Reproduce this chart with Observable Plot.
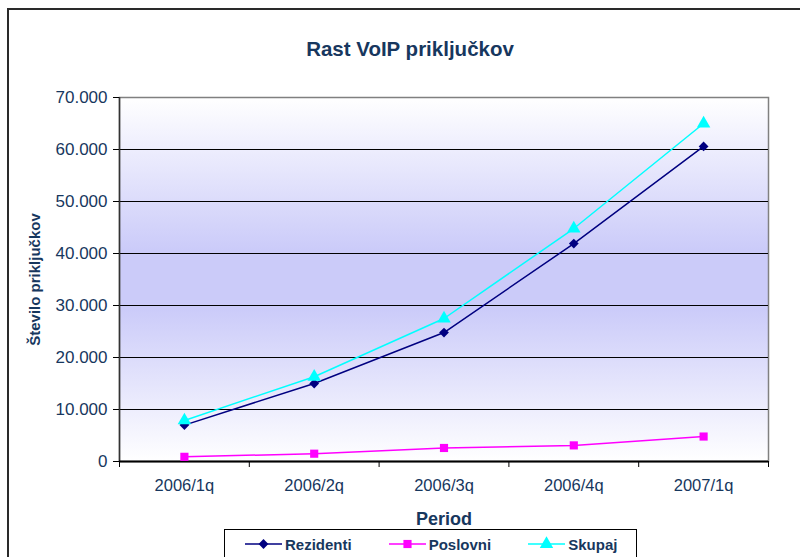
<!DOCTYPE html>
<html><head><meta charset="utf-8">
<script src="https://cdn.jsdelivr.net/npm/d3@7"></script>
<script src="https://cdn.jsdelivr.net/npm/@observablehq/plot@0.6"></script>
<style>
body{margin:0;background:#fff;font-family:"Liberation Sans",Arial,sans-serif;}
#wrap{position:relative;width:800px;height:557px;overflow:hidden;background:#fff;}
#outer{position:absolute;left:7px;top:8px;width:900px;height:800px;border:2px solid #2a2a2a;box-sizing:border-box;}
#chart{position:absolute;left:0;top:0;}
#title{position:absolute;left:0;top:37px;width:820px;text-align:center;font-weight:bold;font-size:20.5px;color:#17375e;}
#legend{position:absolute;left:224px;top:529px;width:413px;height:40px;border:1px solid #000;box-sizing:border-box;background:#fff;display:flex;align-items:flex-start;padding-left:20px;padding-top:5px;gap:37px;}
.item{display:flex;align-items:center;font-weight:bold;font-size:15px;color:#17375e;}
.item svg{margin-right:3px;}
</style></head>
<body>
<div id="wrap">
  <div id="outer"></div>
  <div id="chart"></div>
  <div id="title">Rast VoIP priključkov</div>
  <div id="legend"></div>
</div>
<script>
const categories = ["2006/1q","2006/2q","2006/3q","2006/4q","2007/1q"];
const rezidenti = [7000,15000,24800,41900,60600];
const poslovni  = [900,1500,2600,3100,4800];
const skupaj    = [7900,16300,27500,44800,65000];
const yTicks = [0,10000,20000,30000,40000,50000,60000,70000];
const seriesNames = ["Rezidenti","Poslovni","Skupaj"];
const seriesValues = [rezidenti, poslovni, skupaj];
const seriesColors = ["#000080","#ff00ff","#00ffff"];
const seriesSymbols = ["diamond2","square","triangle"];
const seriesR = [4.4,4.6,5];
const yTitle = "Število priključkov";
const xTitle = "Period";

const fmt = d => d === 0 ? "0" : d3.format(",")(d).replace(/,/g, ".");
const textColor = "#17375e";

const marks = [
  Plot.frame({fill:"url(#bgGrad)", stroke:"#808080", strokeWidth:1.5}),
  Plot.gridY(yTicks.filter(d => d > 0 && d < 70000), {stroke:"#000", strokeOpacity:1, strokeWidth:1}),
  Plot.ruleX([0], {stroke:"#333", strokeWidth:1.5}),
  Plot.ruleY([0], {stroke:"#000", strokeWidth:2}),
  Plot.axisY({ticks:yTicks, tickSize:6, tickFormat:() => "", color:"#000", label:null}),
  Plot.axisY({ticks:yTicks, tickSize:0, tickPadding:12, tickFormat:fmt, color:textColor, fontSize:17, label:null}),
  Plot.axisX({ticks:d3.range(0, categories.length + 1), tickSize:6, tickFormat:() => "", color:"#000", label:null}),
  Plot.axisX({ticks:categories.map((c,i) => i + 0.5), tickSize:0, tickPadding:18, tickFormat:d => categories[Math.floor(d)], color:textColor, fontSize:16.5, label:null}),
  Plot.text([yTitle], {frameAnchor:"left", dx:-84, rotate:-90, textAnchor:"middle", fontWeight:"bold", fontSize:15, fill:textColor}),
  Plot.text([xTitle], {frameAnchor:"bottom", dy:63, fontWeight:"bold", fontSize:18, fill:textColor, style:"letter-spacing:0.5px"})
];
seriesNames.forEach((name, s) => {
  const data = seriesValues[s].map((v, i) => ({i, v}));
  marks.push(Plot.line(data, {x:d => d.i + 0.5, y:"v", stroke:seriesColors[s], strokeWidth:1.5}));
  marks.push(Plot.dot(data, {x:d => d.i + 0.5, y:"v", symbol:seriesSymbols[s], r:seriesR[s], fill:seriesColors[s], stroke:"none"}));
});

const plot = Plot.plot({
  width:800, height:557,
  marginLeft:119, marginRight:32, marginTop:97, marginBottom:96,
  style:{fontFamily:"Liberation Sans, Arial, sans-serif", fontSize:"16px", background:"transparent", overflow:"visible"},
  x:{domain:[0, categories.length], axis:null, label:null},
  y:{domain:[0, 70000], axis:null, label:null},
  marks
});
const svgSel = d3.select(plot);
const grad = svgSel.insert("defs", ":first-child").append("linearGradient")
  .attr("id","bgGrad").attr("x1",0).attr("y1",0).attr("x2",0).attr("y2",1);
[[0,"#ffffff"],[0.42,"#cbcbf9"],[0.58,"#cbcbf9"],[1,"#ffffff"]].forEach(([o,c]) =>
  grad.append("stop").attr("offset",o).attr("stop-color",c));
svgSel.selectAll('[aria-label="frame"], [aria-label="frame"] rect').attr("fill","url(#bgGrad)");
document.getElementById("chart").appendChild(plot);

// legend
const legend = d3.select("#legend");
const symMap = {diamond2:d3.symbolDiamond2, square:d3.symbolSquare, triangle:d3.symbolTriangle};
seriesNames.forEach((name, s) => {
  const item = legend.append("div").attr("class","item");
  const sv = item.append("svg").attr("width",37).attr("height",18);
  sv.append("line").attr("x1",0).attr("x2",37).attr("y1",9).attr("y2",9)
    .attr("stroke",seriesColors[s]).attr("stroke-width",1.5);
  sv.append("path").attr("transform","translate(18.5,9)")
    .attr("d", d3.symbol(symMap[seriesSymbols[s]], seriesR[s]*seriesR[s]*Math.PI)())
    .attr("fill", seriesColors[s]);
  item.append("span").text(name);
});
</script>
</body></html>
